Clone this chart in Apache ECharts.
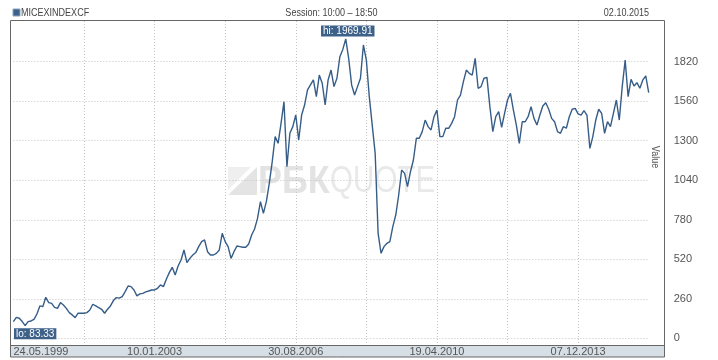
<!DOCTYPE html>
<html><head><meta charset="utf-8">
<script src="https://cdn.jsdelivr.net/npm/echarts@6/dist/echarts.min.js"></script>
<style>html,body{margin:0;padding:0;background:#fff}#c{width:718px;height:360px}</style>
</head><body><div id="c"></div>
<script>
const instrument = 'MICEXINDEXCF';
const session = 'Session: 10:00 – 18:50';
const asOf = '02.10.2015';
const dateLabels = ['24.05.1999', '10.01.2003', '30.08.2006', '19.04.2010', '07.12.2013'];
const yAxisName = 'Value';
const values = [
  110,138,132,110,83.33,110,114,125,160,213,208,270,235,230,204,197,235,219,197,169,
  154,136,165,165,165,169,186,224,213,202,191,165,191,213,248,268,264,274,307,344,
  340,318,279,292,296,305,311,318,318,329,351,340,388,432,467,417,476,515,581,498,
  526,548,564,603,636,647,570,548,548,559,581,691,636,603,526,570,607,603,599,599,
  621,680,719,789,899,822,899,1020,1162,1327,1283,1414,1557,1129,1349,1393,1469,1305,1469,1535,
  1634,1667,1700,1590,1732,1678,1535,1700,1765,1656,1711,1853,1901,1969.91,1840,1667,1601,1656,1711,1930,
  1831,1590,1403,1217,691,559,603,625,636,735,811,943,1107,1085,998,1096,1173,1316,1316,1360,
  1436,1393,1371,1458,1502,1327,1327,1382,1382,1414,1458,1568,1600,1689,1765,1743,1732,1842,1645,1656,
  1711,1717,1524,1360,1458,1491,1388,1480,1568,1612,1502,1403,1283,1425,1425,1458,1524,1447,1403,1469,
  1528,1550,1507,1447,1425,1360,1349,1393,1382,1458,1507,1513,1477,1469,1498,1469,1250,1327,1436,1507,
  1480,1349,1425,1393,1480,1568,1436,1656,1830,1590,1704,1660,1682,1645,1700,1726,1616
];
const F = "'Liberation Sans Narrow','Liberation Sans',Arial,sans-serif";
const LINE = '#365d88';
const GRIDC = '#c4c4c4';
const lastIdx = values.length - 1;
const step = 24;
const SX = 0.82; // narrow header font

const chart = echarts.init(document.getElementById('c'), null, {renderer: 'canvas'});
const option = {
  animation: false,
  grid: [
    {left: 13.4, right: 69.3, top: 61.7, bottom: 21.7},
    {left: 13.4, right: 69.3, top: 21, bottom: 15}
  ],
  xAxis: [
    {gridIndex: 0, type: 'value', min: 0, max: lastIdx, interval: step, show: false},
    {gridIndex: 1, type: 'value', min: 0, max: lastIdx, interval: step,
      axisLine: {show: false}, axisTick: {show: false},
      splitLine: {show: true, showMinLine: false, showMaxLine: false, lineStyle: {color: GRIDC, width: 1, type: [1, 2]}},
      axisLabel: {margin: 1, color: '#555', fontFamily: F, fontSize: 11, alignMinLabel: 'left', showMaxLabel: false,
        formatter: v => (v % (2 * step) === 0 ? (dateLabels[v / (2 * step)] || '') : '')}}
  ],
  yAxis: [
    {gridIndex: 0, type: 'value', position: 'right', min: 0, max: 1820, interval: 260,
      axisLine: {show: false}, axisTick: {show: false},
      axisLabel: {margin: 25, color: '#555', fontFamily: F, fontSize: 11, align: 'left', formatter: v => String(v)},
      splitLine: {show: true, lineStyle: {color: GRIDC, width: 1, type: [1, 2]}}},
    {gridIndex: 1, type: 'value', min: -44.1, max: 2087.8, show: false, splitLine: {show: false}}
  ],
  series: [{
    type: 'line', xAxisIndex: 1, yAxisIndex: 1, z: 3,
    data: values.map((v, i) => [i, v]),
    showSymbol: false, sampling: null,
    lineStyle: {color: LINE, width: 1.4}, itemStyle: {color: LINE},
    markPoint: {
      symbol: 'circle', symbolSize: 1, itemStyle: {color: 'rgba(0,0,0,0)'},
      label: {show: true, color: '#fff', backgroundColor: '#3d6189', padding: [1, 2, 0, 2],
        fontFamily: F, fontSize: 10, lineHeight: 10},
      data: [
        {type: 'max', label: {position: 'top', distance: 2, offset: [2, 0], formatter: p => 'hi: ' + p.value.toFixed(2)}},
        {type: 'min', label: {position: 'bottom', distance: 2, offset: [10, 0], formatter: p => 'lo: ' + p.value.toFixed(2)}}
      ]
    }
  }],
  graphic: [
    {type: 'rect', z: -5, shape: {x: 11, y: 345, width: 653, height: 12}, style: {fill: '#d6dee6'}},
    {type: 'polygon', z: -5, shape: {points: [[228, 195], [257, 167], [257, 195]]}, style: {fill: '#e4e4e4'}},
    {type: 'polygon', z: -5, shape: {points: [[228, 167], [251, 167], [228, 190]]}, style: {fill: '#efefef'}},
    {type: 'text', z: -5, x: 258, y: 182, scaleX: 0.92, style: {text: 'РБК', font: "bold 39px 'Liberation Sans',Arial,sans-serif", fill: '#e3e3e3', align: 'left', verticalAlign: 'middle'}},
    {type: 'text', z: -5, x: 330, y: 182, scaleX: 0.8, style: {text: 'QUOTE', font: "37px 'Liberation Sans',Arial,sans-serif", fill: '#e9e9e9', align: 'left', verticalAlign: 'middle'}},
    {type: 'line', z: 50, shape: {x1: 10, y1: 345.5, x2: 664, y2: 345.5}, style: {stroke: '#666', lineWidth: 1}},
    {type: 'rect', z: 50, shape: {x: 10.5, y: 20.5, width: 654, height: 336.5}, style: {fill: 'none', stroke: '#666', lineWidth: 1}},
    {type: 'rect', z: 50, shape: {x: 13, y: 9, width: 7, height: 7}, style: {fill: '#3d6189', stroke: '#8aa4c0', lineWidth: 1}},
    {type: 'text', z: 50, x: 21, y: 12.5, scaleX: SX, style: {text: instrument, font: "11px 'Liberation Sans',Arial,sans-serif", fill: '#444', align: 'left', verticalAlign: 'middle'}},
    {type: 'text', z: 50, x: 331.5, y: 12.5, scaleX: SX, style: {text: session, font: "11px 'Liberation Sans',Arial,sans-serif", fill: '#444', align: 'center', verticalAlign: 'middle'}},
    {type: 'text', z: 50, x: 649, y: 12.5, scaleX: SX, style: {text: asOf, font: "11px 'Liberation Sans',Arial,sans-serif", fill: '#444', align: 'right', verticalAlign: 'middle'}},
    {type: 'text', z: 50, x: 655, y: 157, rotation: -Math.PI / 2, scaleX: SX, style: {text: yAxisName, font: "11px 'Liberation Sans',Arial,sans-serif", fill: '#555', align: 'center', verticalAlign: 'middle'}}
  ]
};
chart.setOption(option);
</script>
</body></html>
